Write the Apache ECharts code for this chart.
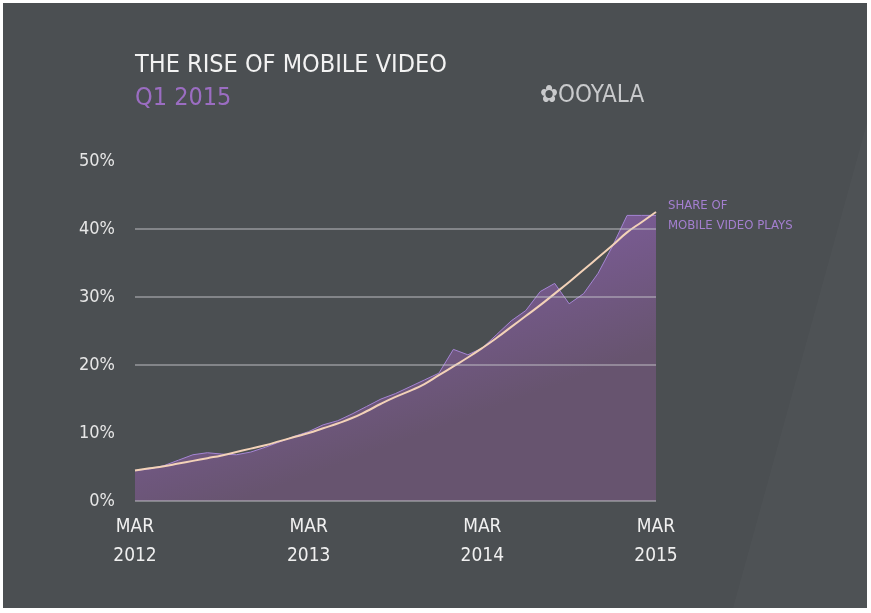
<!DOCTYPE html>
<html>
<head>
<meta charset="utf-8">
<script src="https://cdn.jsdelivr.net/npm/echarts@6/dist/echarts.min.js"></script>
<style>
  html,body{margin:0;padding:0;background:#ffffff;width:871px;height:613px;overflow:hidden;}
  #c{position:absolute;left:3px;top:3px;width:864px;height:605px;}
</style>
</head>
<body>
<div id="c"></div>
<script>
// Categories: monthly, Mar 2012 .. Mar 2015
var monthNames = ['MAR','APR','MAY','JUN','JUL','AUG','SEP','OCT','NOV','DEC','JAN','FEB'];
var categories = [];
for (var i = 0; i < 37; i++) {
  var y = 2012 + Math.floor((i + 2) / 12);
  categories.push(monthNames[i % 12] + ' ' + y);
}
// Share of mobile video plays (%)
var shareValues = [4.5, 4.7, 5.2, 6.0, 6.8, 7.1, 6.9, 6.8, 7.2, 7.9, 8.7, 9.5,
                   10.2, 11.2, 11.8, 12.8, 13.9, 15.0, 15.8, 16.8, 17.8, 18.8, 22.3, 21.5,
                   22.5, 24.5, 26.5, 28.0, 30.8, 32.0, 29.0, 30.5, 33.5, 37.5, 42.0, 42.0, 42.0];
// Trend line (%)
var trendValues = [4.5, 4.8, 5.1, 5.5, 5.9, 6.3, 6.7, 7.2, 7.7, 8.2, 8.8, 9.4,
                   10.0, 10.7, 11.4, 12.2, 13.2, 14.3, 15.3, 16.2, 17.2, 18.5, 19.8, 21.1,
                   22.5, 24.0, 25.6, 27.2, 28.8, 30.5, 32.2, 34.0, 35.8, 37.6, 39.5, 41.0, 42.5];
var yTicks = [0, 10, 20, 30, 40, 50];
var gridLines = [0, 20, 30, 40];

var font = '"Liberation Sans Narrow", "DejaVu Sans Condensed", "Roboto", sans-serif';
var chart = echarts.init(document.getElementById('c'));
chart.setOption({
  backgroundColor: '#4b4f52',
  animation: false,
  graphic: [
    {type: 'polygon', shape: {points: [[864, 120], [864, 605], [730, 605]]},
     style: {fill: 'rgba(255,255,255,0.02)'}, z: -1},
    {type: 'text', left: 132, top: 50,
     style: {text: 'THE RISE OF MOBILE VIDEO', fill: '#f2f2f2', font: '25px ' + font}},
    {type: 'text', left: 132, top: 83,
     style: {text: 'Q1 2015', fill: '#9b6dc2', font: '25px ' + font}},
    {type: 'text', left: 537, top: 81,
     style: {text: '✿OOYALA', fill: '#c9cacc', font: '24px ' + font}},
    {type: 'text', left: 665, top: 193,
     style: {text: 'SHARE OF\nMOBILE VIDEO PLAYS', fill: '#a47fd0', font: '13px ' + font, lineHeight: 20}}
  ],
  grid: {left: 132, right: 211, top: 158, bottom: 107},
  xAxis: {
    type: 'category',
    data: categories,
    boundaryGap: false,
    axisLine: {show: false},
    axisTick: {show: false},
    splitLine: {show: false},
    axisLabel: {
      interval: 11,
      color: '#f0f0f0',
      fontFamily: font,
      fontSize: 19,
      lineHeight: 29,
      margin: 12,
      formatter: function (v) { return v.replace(' ', '\n'); }
    }
  },
  yAxis: {
    type: 'value',
    min: 0, max: 50, interval: 10,
    axisLine: {show: false},
    axisTick: {show: false},
    splitLine: {show: false},
    axisLabel: {
      color: '#e6e6e6',
      fontFamily: font,
      fontSize: 18,
      margin: 20,
      formatter: function (v) { return yTicks.indexOf(v) >= 0 ? v + '%' : ''; }
    }
  },
  series: [
    {
      type: 'line',
      data: shareValues,
      symbol: 'none',
      lineStyle: {color: '#a585d4', width: 1},
      areaStyle: {
        color: {type: 'linear', x: 0, y: 0, x2: 0.2, y2: 1,
          colorStops: [{offset: 0, color: '#9467bc'}, {offset: 0.5, color: '#7c5c98'}, {offset: 1, color: '#67546f'}]},
        opacity: 1
      },
      z: 2
    },
    {
      type: 'line',
      data: trendValues,
      symbol: 'none',
      smooth: true,
      lineStyle: {color: '#f3d2b8', width: 2},
      markLine: {
        silent: true,
        symbol: 'none',
        label: {show: false},
        lineStyle: {color: 'rgba(200,200,205,0.6)', width: 1.5, type: 'solid'},
        data: gridLines.map(function (g) { return {yAxis: g}; })
      },
      z: 3
    }
  ]
});
</script>
</body>
</html>
